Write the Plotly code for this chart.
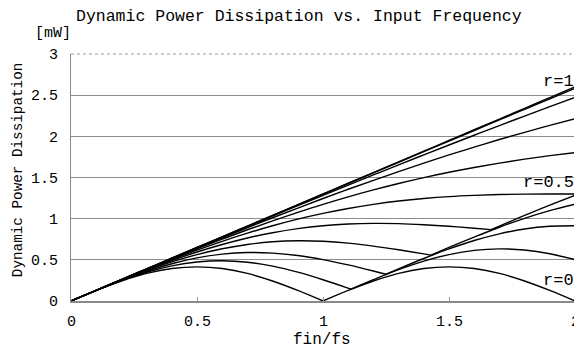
import plotly.graph_objects as go

# ---- data ----
X = [0.0, 0.1, 0.2, 0.3, 0.4, 0.5, 0.6, 0.7, 0.8, 0.9, 1.0,
     1.1, 1.2, 1.3, 1.4, 1.5, 1.6, 1.7, 1.8, 1.9, 2.0]

R_VALUES = [0.0, 0.1, 0.2, 0.3, 0.4, 0.5, 0.6, 0.7, 0.8, 0.9, 1.0]

Y_R00 = [0, 0.128, 0.243, 0.335, 0.394, 0.414, 0.394, 0.335, 0.243, 0.128, 0,
         0.128, 0.243, 0.335, 0.394, 0.414, 0.394, 0.335, 0.243, 0.128, 0]
Y_R01 = [0, 0.128, 0.248, 0.349, 0.426, 0.474, 0.489, 0.471, 0.423, 0.350, 0.258,
         0.156, 0.259, 0.380, 0.484, 0.564, 0.615, 0.633, 0.619, 0.574, 0.503]
Y_R02 = [0, 0.129, 0.251, 0.361, 0.453, 0.524, 0.569, 0.589, 0.582, 0.553, 0.503,
         0.438, 0.364, 0.390, 0.516, 0.633, 0.735, 0.816, 0.875, 0.907, 0.914]
Y_R03 = [0, 0.129, 0.254, 0.371, 0.475, 0.564, 0.635, 0.687, 0.719, 0.731, 0.725,
         0.703, 0.667, 0.622, 0.572, 0.650, 0.776, 0.896, 1.004, 1.097, 1.174]
Y_R04 = [0, 0.130, 0.256, 0.378, 0.491, 0.595, 0.686, 0.765, 0.829, 0.879, 0.914,
         0.935, 0.943, 0.940, 0.927, 0.908, 0.884, 0.910, 1.039, 1.164, 1.283]
Y_R05 = [0, 0.130, 0.258, 0.383, 0.503, 0.618, 0.725, 0.824, 0.914, 0.994, 1.064,
         1.124, 1.174, 1.214, 1.245, 1.268, 1.283, 1.293, 1.298, 1.300, 1.300]
Y_R06 = [0, 0.130, 0.259, 0.386, 0.511, 0.633, 0.751, 0.865, 0.973, 1.076, 1.174,
         1.265, 1.349, 1.427, 1.499, 1.564, 1.622, 1.675, 1.723, 1.765, 1.803]
Y_R07 = [0, 0.130, 0.260, 0.388, 0.516, 0.643, 0.768, 0.891, 1.011, 1.129, 1.245,
         1.357, 1.466, 1.572, 1.675, 1.774, 1.869, 1.961, 2.049, 2.133, 2.214]
Y_R08 = [0, 0.130, 0.260, 0.390, 0.519, 0.648, 0.776, 0.904, 1.031, 1.158, 1.283,
         1.408, 1.531, 1.654, 1.775, 1.895, 2.013, 2.131, 2.246, 2.361, 2.474]
Y_R09 = [0, 0.130, 0.260, 0.390, 0.520, 0.650, 0.780, 0.909, 1.039, 1.168, 1.298,
         1.427, 1.556, 1.685, 1.814, 1.943, 2.071, 2.200, 2.328, 2.456, 2.583]
Y_R10 = [0, 0.13, 0.26, 0.39, 0.52, 0.65, 0.78, 0.91, 1.04, 1.17, 1.30,
         1.43, 1.56, 1.69, 1.82, 1.95, 2.08, 2.21, 2.34, 2.47, 2.60]

SERIES = [Y_R00, Y_R01, Y_R02, Y_R03, Y_R04, Y_R05, Y_R06, Y_R07, Y_R08, Y_R09, Y_R10]

# cusp (minimum) points of each curve, None where the curve has none inside the range
CUSP_X = [1.0, 1.1111, 1.25, 1.4286, 1.6667, None, None, None, None, None, None]
CUSP_Y = [0.0, 0.144, 0.325, 0.557, 0.867, None, None, None, None, None, None]

LABEL_TEXT = ["r=1", "r=0.5", "r=0"]
LABEL_X = [2.0, 2.0, 2.0]
LABEL_Y = [2.67, 1.435, 0.25]

TITLE = "Dynamic Power Dissipation vs. Input Frequency"
X_TITLE = "fin/fs"
Y_TITLE = "Dynamic Power Dissipation"
Y_UNIT = "[mW]"
X_TICKS = [0, 0.5, 1, 1.5, 2]
X_TICKTEXT = ["0", "0.5", "1", "1.5", "2"]
Y_TICKS = [0, 0.5, 1, 1.5, 2, 2.5, 3]
Y_TICKTEXT = ["0", "0.5", "1", "1.5", "2", "2.5", "3"]

FONT = "Liberation Mono"

fig = go.Figure()

for ys, cx, cy in zip(SERIES, CUSP_X, CUSP_Y):
    if cx is None:
        xs, yv = list(X), list(ys)
    else:
        xs, yv = [], []
        for x, y in zip(X, ys):
            if x < cx - 1e-6:
                xs.append(x); yv.append(y)
        xs += [cx, None, cx]
        yv += [cy, None, cy]
        for x, y in zip(X, ys):
            if x > cx + 1e-6:
                xs.append(x); yv.append(y)
    fig.add_trace(go.Scatter(
        x=xs, y=yv, mode="lines",
        line=dict(color="black", width=1.4, shape="spline", smoothing=1.0),
        connectgaps=False, showlegend=False, hoverinfo="skip", cliponaxis=False))

for t, lx, ly in zip(LABEL_TEXT, LABEL_X, LABEL_Y):
    fig.add_annotation(x=lx, y=ly, xref="x", yref="y", text=t, showarrow=False,
                       xanchor="right", yanchor="middle", xshift=1,
                       font=dict(family=FONT, size=17, color="black"))

# x tick labels drawn as annotations so the last one is not dropped at the edge
for tv, tt in zip(X_TICKS, X_TICKTEXT):
    fig.add_annotation(x=tv, y=0, xref="x", yref="paper", text=tt, showarrow=False,
                       xanchor="center", yanchor="middle", yshift=-21,
                       font=dict(family=FONT, size=15, color="black"))

fig.add_annotation(x=-0.036, y=1.085, xref="paper", yref="paper", text=Y_UNIT,
                   showarrow=False, xanchor="center", yanchor="middle",
                   font=dict(family=FONT, size=15, color="black"))
fig.add_annotation(x=-0.105, y=0.53, xref="paper", yref="paper", text=Y_TITLE,
                   textangle=-90, showarrow=False, xanchor="center", yanchor="middle",
                   font=dict(family=FONT, size=14.3, color="black"))
fig.add_annotation(x=0.498, y=-0.158, xref="paper", yref="paper", text=X_TITLE,
                   showarrow=False, xanchor="center", yanchor="middle",
                   font=dict(family=FONT, size=16, color="black"))

# dotted top / right frame
fig.add_shape(type="line", xref="paper", yref="paper", x0=0, x1=1, y0=1, y1=1,
              line=dict(color="#9a9a9a", width=1, dash="dot"))
fig.add_shape(type="line", xref="paper", yref="paper", x0=1, x1=1, y0=0, y1=1,
              line=dict(color="#9a9a9a", width=1, dash="dot"))

# the page body adds an 8px offset; the figure is sized to fill the rest of the window
fig.update_layout(
    width=574, height=347,
    margin=dict(l=63, r=7, t=46, b=54, autoexpand=False),
    paper_bgcolor="white", plot_bgcolor="white",
    title=dict(text=TITLE, x=0.452, xref="paper", xanchor="center",
               y=1 - 7 / 347, yref="container", yanchor="middle",
               font=dict(family=FONT, size=16.5, color="black")),
    xaxis=dict(range=[0, 2], tickvals=X_TICKS, showticklabels=False,
               showgrid=False, zeroline=False, showline=True, automargin=False,
               linecolor="#8a8a8a", linewidth=1.5,
               ticks="inside", ticklen=4, tickcolor="#9a9a9a"),
    yaxis=dict(range=[0, 3], tickvals=Y_TICKS, ticktext=Y_TICKTEXT,
               showgrid=True, gridcolor="#8c8c8c", gridwidth=1, automargin=False,
               zeroline=False, showline=True, linecolor="#8a8a8a", linewidth=1,
               ticks="", ticklabelstandoff=9,
               tickfont=dict(family=FONT, size=15, color="black")),
)

fig.write_html("out.html")
